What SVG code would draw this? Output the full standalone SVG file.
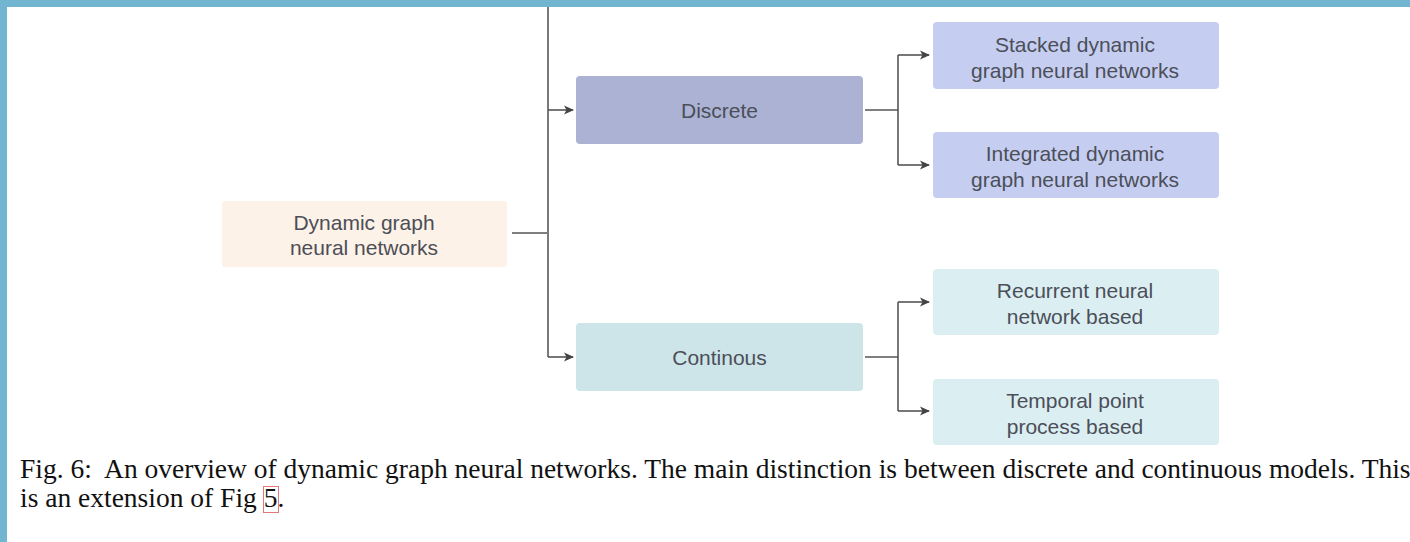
<svg xmlns="http://www.w3.org/2000/svg" width="1410" height="542" viewBox="0 0 1410 542">
  <style>
    .box { stroke: none; }
    .label { font-family: "Liberation Sans", Arial, sans-serif; font-size: 21px; fill: #4c4e58; text-anchor: middle; }
    .wire { fill: none; stroke: #555; stroke-width: 1.6; }
    .trunk { fill: none; stroke: #7a7a7a; stroke-width: 2; }
    .caption { font-family: "Liberation Serif", "Times New Roman", serif; font-size: 27.5px; fill: #111; }
  </style>
  <defs>
    <marker id="head" viewBox="0 0 10 10" refX="9" refY="5" markerWidth="10" markerHeight="10" markerUnits="userSpaceOnUse" orient="auto">
      <path d="M0,0.5 L10,5 L0,9.5 L2.5,5 Z" fill="#444"/>
    </marker>
  </defs>

  <!-- page background and frame -->
  <rect x="0" y="0" width="1410" height="542" fill="#ffffff"/>
  <rect x="0" y="0" width="1410" height="7" fill="#72b5d0"/>
  <rect x="0" y="0" width="7" height="542" fill="#72b5d0"/>

  <!-- connectors -->
  <g id="connectors">
    <path class="wire" d="M512,233 H548"/>
    <path class="trunk" d="M548,7 V357"/>
    <path class="wire" d="M548,110 H573" marker-end="url(#head)"/>
    <path class="wire" d="M548,357 H573" marker-end="url(#head)"/>

    <path class="wire" d="M865,110 H898"/>
    <path class="wire" d="M898,55 V165"/>
    <path class="wire" d="M898,55 H929" marker-end="url(#head)"/>
    <path class="wire" d="M898,165 H929" marker-end="url(#head)"/>

    <path class="wire" d="M865,357 H898"/>
    <path class="wire" d="M898,302 V411"/>
    <path class="wire" d="M898,302 H929" marker-end="url(#head)"/>
    <path class="wire" d="M898,411 H929" marker-end="url(#head)"/>
  </g>

  <!-- nodes -->
  <g id="node-dynamic">
    <rect class="box" x="222" y="201" width="285" height="66" rx="3" fill="#fdf2e7"/>
    <text class="label" x="364" y="230">Dynamic graph</text>
    <text class="label" x="364" y="255">neural networks</text>
  </g>

  <g id="node-discrete">
    <rect class="box" x="576" y="76" width="287" height="68" rx="4" fill="#abb2d4"/>
    <text class="label" x="719.5" y="117.5">Discrete</text>
  </g>

  <g id="node-continous">
    <rect class="box" x="576" y="323" width="287" height="68" rx="4" fill="#cde5e8"/>
    <text class="label" x="719.5" y="364.5">Continous</text>
  </g>

  <g id="node-stacked">
    <rect class="box" x="933" y="22" width="286" height="67" rx="4" fill="#c5cef1"/>
    <text class="label" x="1075" y="51.5">Stacked dynamic</text>
    <text class="label" x="1075" y="77.5">graph neural networks</text>
  </g>

  <g id="node-integrated">
    <rect class="box" x="933" y="132" width="286" height="66" rx="4" fill="#c5cef1"/>
    <text class="label" x="1075" y="161">Integrated dynamic</text>
    <text class="label" x="1075" y="187">graph neural networks</text>
  </g>

  <g id="node-recurrent">
    <rect class="box" x="933" y="269" width="286" height="66" rx="4" fill="#dbeff2"/>
    <text class="label" x="1075" y="298">Recurrent neural</text>
    <text class="label" x="1075" y="324">network based</text>
  </g>

  <g id="node-temporal">
    <rect class="box" x="933" y="379" width="286" height="66" rx="4" fill="#dbeff2"/>
    <text class="label" x="1075" y="408">Temporal point</text>
    <text class="label" x="1075" y="434">process based</text>
  </g>

  <!-- caption -->
  <g id="caption">
    <text class="caption" x="20" y="478" xml:space="preserve">Fig. 6:  An overview of dynamic graph neural networks. The main distinction is between discrete and continuous models. This</text>
    <text class="caption" x="20" y="507">is an extension of Fig 5.</text>
    <rect x="263.5" y="486.5" width="15" height="26" fill="none" stroke="#e07a7a" stroke-width="1"/>
  </g>
</svg>
